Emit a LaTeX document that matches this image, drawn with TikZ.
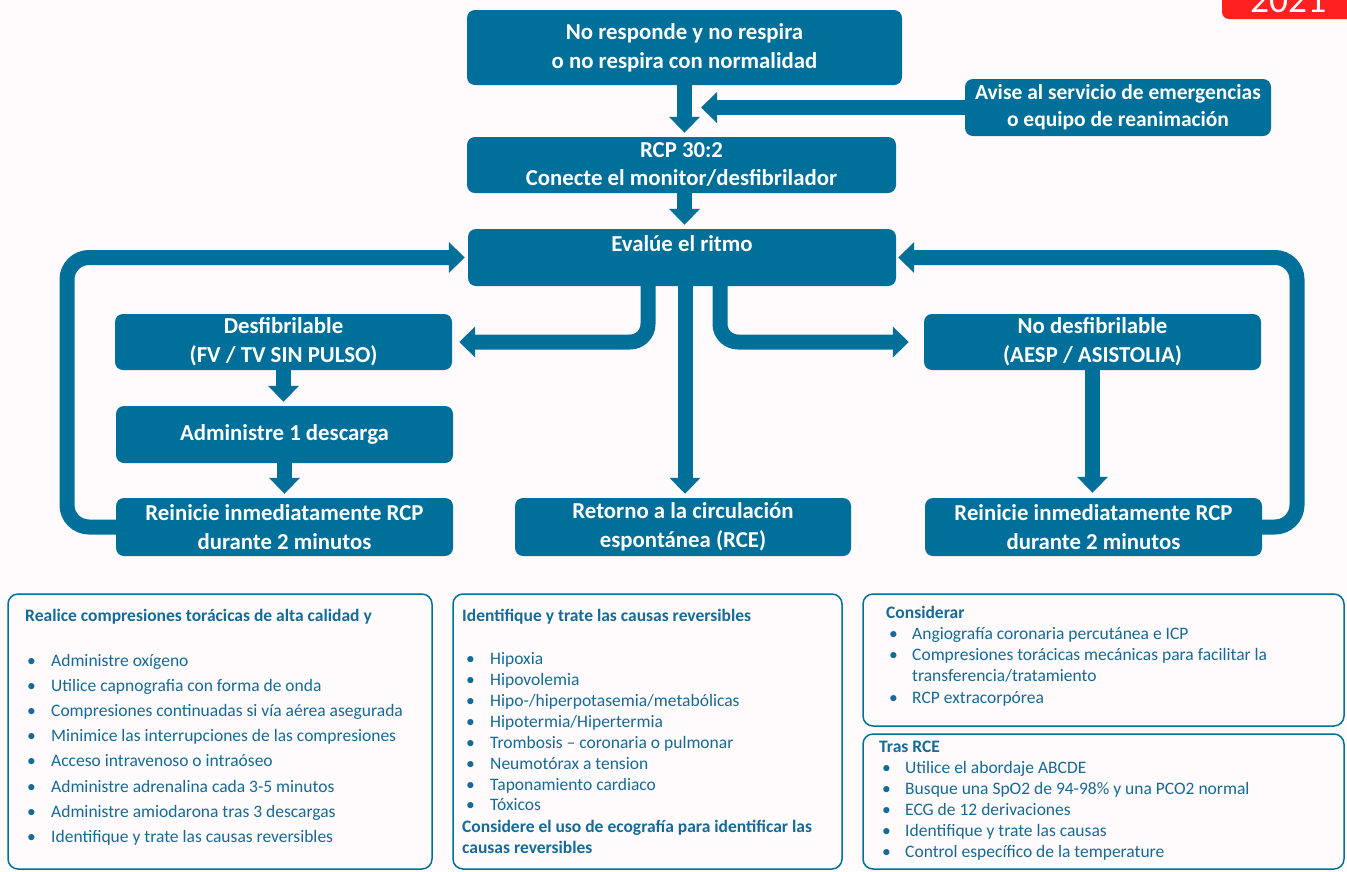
\documentclass[tikz,border=0pt]{standalone}
\usepackage{fontspec}
\setmainfont{Carlito}
\usetikzlibrary{arrows.meta,calc}
\definecolor{boxblue}{RGB}{0,112,155}
\definecolor{txtblue}{RGB}{22,106,150}
\definecolor{bgpink}{RGB}{255,250,251}
\definecolor{tabred}{RGB}{255,32,32}
\newcommand{\bitem}[2]{\hspace*{#1}\makebox[#2][l]{•}}
\begin{document}
\begin{tikzpicture}[x=1pt,y=-1pt,
  stepbox/.style={fill=boxblue, rounded corners=8pt, text=white, font=\fontsize{22.8}{29}\selectfont\bfseries, align=center, inner sep=0pt},
  conn/.style={draw=boxblue, line width=15pt, -{Triangle[width=30pt,length=16pt]}},
  infobox/.style={draw=boxblue, line width=1.5pt, rounded corners=10pt},
  infotext/.style={anchor=base west, inner sep=0pt, text=txtblue}
]
\fill[bgpink] (0,0) rectangle (1347,871);
\useasboundingbox (0,0) rectangle (1347,871);

% year tab
\begin{scope}
\clip (0,0) rectangle (1347,871);
\fill[tabred, rounded corners=7pt] (1222,-20) rectangle (1360,19);
\node[anchor=base west, inner sep=0pt, text=white, font=\fontsize{37.5}{40}\selectfont] (yr) at (1250,12.7) {2021};
\end{scope}

% step boxes
\node[stepbox, minimum width=435pt, minimum height=75pt] (top) at (684.5,47.5) {No responde y no respira\\o no respira con normalidad};
\node[stepbox, minimum width=306pt, minimum height=57pt, font=\fontsize{21.5}{27}\selectfont\bfseries] (avise) at (1118,107.5) {Avise al servicio de emergencias\\o equipo de reanimación};
\node[stepbox, minimum width=429pt, minimum height=56pt, font=\fontsize{22.8}{28}\selectfont\bfseries] (rcp) at (681.5,165) {RCP 30:2\\Conecte el monitor/desfibrilador};
\node[stepbox, minimum width=428pt, minimum height=57pt] (eval) at (682,257.5) {Evalúe el ritmo\\\mbox{}};
\node[stepbox, minimum width=337pt, minimum height=56pt] (desf) at (283.5,342) {Desfibrilable\\(FV / TV SIN PULSO)};
\node[stepbox, minimum width=337pt, minimum height=57pt] (adm) at (284.5,434.5) {Administre 1 descarga};
\node[stepbox, minimum width=337pt, minimum height=58pt] (rl) at (284.5,527) {Reinicie inmediatamente RCP\\durante 2 minutos};
\node[stepbox, minimum width=336pt, minimum height=58pt] (ret) at (683,527) {Retorno a la circulación\\espontánea (RCE)};
\node[stepbox, minimum width=337pt, minimum height=56pt] (nodesf) at (1092.5,342) {No desfibrilable\\(AESP / ASISTOLIA)};
\node[stepbox, minimum width=337pt, minimum height=58pt] (rr) at (1093.5,527) {Reinicie inmediatamente RCP\\durante 2 minutos};

% connectors
\coordinate (avtip) at (701,107.5);
\coordinate (mx) at (685,0);
\coordinate (lb) at (648,300);
\coordinate (rb) at (720,300);
\coordinate (lx) at (67,400);
\coordinate (rx) at (1297,400);
\draw[conn, shorten >=4pt] (top.south) -- (top.south |- rcp.north);
\draw[conn] (avise.west) -- (avtip);
\draw[conn, shorten >=4pt] (top.south |- rcp.south) -- (top.south |- eval.north);
\draw[conn, shorten >=4pt] (eval.south -| mx) -- (ret.north -| mx);
\draw[conn, rounded corners=18pt, shorten >=7pt] (eval.south -| lb) |- (desf.east);
\draw[conn, rounded corners=18pt, shorten >=15pt] (eval.south -| rb) |- (nodesf.west);
\draw[conn, rounded corners=22pt, shorten >=3pt] (rl.west) -| (lx) |- (eval.west);
\draw[conn, rounded corners=22pt, shorten >=2pt] (rr.east) -| (rx) |- (eval.east);
\draw[conn, shorten >=4pt] (desf.south) -- (desf.south |- adm.north);
\draw[conn, shorten >=4pt] (adm.south) -- (adm.south |- rl.north);
\draw[conn, shorten >=5pt] (nodesf.south) -- (nodesf.south |- rr.north);

% info boxes
\draw[infobox] (8,594) rectangle (432,869);
\draw[infobox] (453,594) rectangle (842,869);
\draw[infobox] (863,594) rectangle (1344,726);
\draw[infobox] (863,734) rectangle (1344,869);

\node[infotext] (lt) at (25,621) {\begin{minipage}[t]{400pt}\fontsize{17.5}{25.2}\selectfont
\textbf{Realice compresiones torácicas de alta calidad y}\\[19.8pt]
\bitem{2pt}{24pt}Administre oxígeno\\
\bitem{2pt}{24pt}Utilice capnografia con forma de onda\\
\bitem{2pt}{24pt}Compresiones continuadas si vía aérea asegurada\\
\bitem{2pt}{24pt}Minimice las interrupciones de las compresiones\\
\bitem{2pt}{24pt}Acceso intravenoso o intraóseo\\
\bitem{2pt}{24pt}Administre adrenalina cada 3-5 minutos\\
\bitem{2pt}{24pt}Administre amiodarona tras 3 descargas\\
\bitem{2pt}{24pt}Identifique y trate las causas reversibles
\end{minipage}};

\node[infotext] (mt) at (462,621) {\begin{minipage}[t]{375pt}\fontsize{17.5}{20.86}\selectfont
\textbf{Identifique y trate las causas reversibles}\\[23.1pt]
\bitem{4pt}{24pt}Hipoxia\\
\bitem{4pt}{24pt}Hipovolemia\\
\bitem{4pt}{24pt}Hipo-/hiperpotasemia/metabólicas\\
\bitem{4pt}{24pt}Hipotermia/Hipertermia\\
\bitem{4pt}{24pt}Trombosis – coronaria o pulmonar\\
\bitem{4pt}{24pt}Neumotórax a tension\\
\bitem{4pt}{24pt}Taponamiento cardiaco\\
\bitem{4pt}{24pt}Tóxicos\\[1.1pt]
\textbf{Considere el uso de ecografía para identificar las}\\
\textbf{causas reversibles}
\end{minipage}};

\node[infotext] (rt) at (886,618) {\begin{minipage}[t]{450pt}\fontsize{17.5}{21.3}\selectfont
\textbf{Considerar}\\
\bitem{3pt}{23pt}Angiografía coronaria percutánea e ICP\\
\bitem{3pt}{23pt}Compresiones torácicas mecánicas para facilitar la\\
\hspace*{26pt}transferencia/tratamiento\\
\bitem{3pt}{23pt}RCP extracorpórea
\end{minipage}};

\node[infotext] (rbt) at (879,752) {\begin{minipage}[t]{450pt}\fontsize{17.5}{21}\selectfont
\textbf{Tras RCE}\\
\bitem{3pt}{23pt}Utilice el abordaje ABCDE\\
\bitem{3pt}{23pt}Busque una SpO2 de 94-98\% y una PCO2 normal\\
\bitem{3pt}{23pt}ECG de 12 derivaciones\\
\bitem{3pt}{23pt}Identifique y trate las causas\\
\bitem{3pt}{23pt}Control específico de la temperature
\end{minipage}};
\end{tikzpicture}
\end{document}
